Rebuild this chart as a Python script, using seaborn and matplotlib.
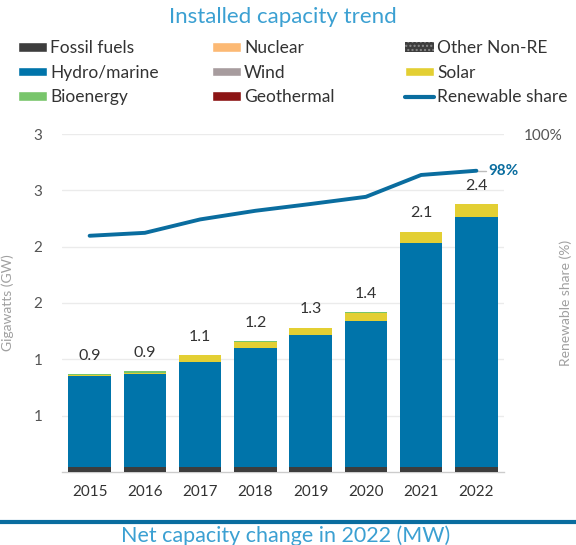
import numpy as np
import pandas as pd
import matplotlib
matplotlib.use("Agg")
import matplotlib.pyplot as plt
import seaborn as sns
from matplotlib.patches import Patch
from matplotlib.lines import Line2D
from matplotlib.ticker import FixedLocator

# ---------------- data ----------------
years = ["2015", "2016", "2017", "2018", "2019", "2020", "2021", "2022"]
fossil = [0.04, 0.04, 0.04, 0.04, 0.04, 0.04, 0.04, 0.04]
hydro = [0.81, 0.83, 0.94, 1.06, 1.18, 1.30, 1.99, 2.22]
solar = [0.010, 0.012, 0.055, 0.055, 0.057, 0.075, 0.099, 0.117]
bioenergy = [0.008, 0.012, 0.005, 0.005, 0.005, 0.005, 0.005, 0.005]
total_labels = ["0.9", "0.9", "1.1", "1.2", "1.3", "1.4", "2.1", "2.4"]
renewable_share = [94.46, 94.62, 95.35, 95.82, 96.19, 96.58, 97.77, 98.0]
y_ticks = [0.5, 1.0, 1.5, 2.0, 2.5, 3.0]
y_tick_labels = ["1", "1", "2", "2", "3", "3"]

# ---------------- style ----------------
sns.set_theme(style="white")
plt.rcParams["font.family"] = ["Lato", "DejaVu Sans"]

C_FOSSIL = "#3d3d3d"
C_HYDRO = "#0074aa"
C_SOLAR = "#e3cf33"
C_BIO = "#78c56b"
C_NUCLEAR = "#fcb974"
C_WIND = "#a79c9e"
C_GEO = "#8c1515"
C_LINE = "#0a6d9f"
C_TITLE = "#3ba0d2"

fig = plt.figure(figsize=(5.76, 5.45), dpi=100)
ax = fig.add_axes([62 / 576, 1 - 472 / 545, 442 / 576, 338 / 545])

df = pd.DataFrame({"year": years, "fossil": fossil, "hydro": hydro,
                   "solar": solar, "bio": bioenergy})
layers = [("fossil", C_FOSSIL), ("hydro", C_HYDRO), ("solar", C_SOLAR), ("bio", C_BIO)]
bottom = np.zeros(len(years))
for col, color in layers:
    sns.barplot(data=df, x="year", y=col, color=color, width=0.77,
                bottom=bottom, ax=ax, edgecolor="none", linewidth=0,
                saturation=1, zorder=3)
    bottom = bottom + df[col].to_numpy()

totals = bottom
for i, lab in enumerate(total_labels):
    ax.annotate(lab, (i, totals[i]), xytext=(0, 8), textcoords="offset points",
                ha="center", va="bottom", fontsize=11.5, color="#333333", zorder=5)

ax.set_xlim(-0.5, len(years) - 0.5)
ax.set_ylim(0, 3.0)
ax.yaxis.set_major_locator(FixedLocator(y_ticks))
ax.set_yticklabels(y_tick_labels)
ax.grid(axis="y", color="#ebebeb", linewidth=1, zorder=0)
ax.set_axisbelow(True)
for s in ["top", "right", "left"]:
    ax.spines[s].set_visible(False)
ax.spines["bottom"].set_color("#cccccc")
ax.spines["bottom"].set_linewidth(1)
ax.tick_params(axis="y", length=0, pad=14, labelsize=11, labelcolor="#555555")
ax.tick_params(axis="x", which="major", length=0, pad=9, labelsize=11, labelcolor="#333333")
ax.xaxis.set_minor_locator(FixedLocator(np.arange(-0.5, len(years), 1.0)))
ax.tick_params(axis="x", which="minor", length=5, color="#cccccc", width=1)
ax.set_xlabel("")
ax.set_ylabel("Gigawatts (GW)", fontsize=10, color="#a0a0a0")
ax.yaxis.set_label_coords(-0.108, 0.5)

# renewable share on right axis
ax2 = ax.twinx()
sns.lineplot(x=np.arange(len(years)), y=renewable_share, ax=ax2, color=C_LINE,
             linewidth=2.8, zorder=4)
ax2.set_ylim(81.6, 100)
ax2.yaxis.set_major_locator(FixedLocator([100]))
ax2.set_yticklabels(["100%"])
ax2.tick_params(axis="y", length=0, pad=14, labelsize=11, labelcolor="#555555")
for s in ["top", "right", "left", "bottom"]:
    ax2.spines[s].set_visible(False)
ax2.set_ylabel("Renewable share (%)", fontsize=10, color="#a0a0a0")
ax2.yaxis.set_label_coords(1.125, 0.5)
ax2.grid(False)
last = len(years) - 1
ax2.plot([last + 0.02, last + 0.17], [renewable_share[-1]] * 2, color="#bbbbbb", lw=1)
ax2.annotate(f"{renewable_share[-1]:.0f}%", (last, renewable_share[-1]), xytext=(9, 0),
             textcoords="offset points", ha="left", va="center", fontsize=11,
             color=C_LINE, fontweight="bold")

# title
fig.text(283 / 576, 1 - 17 / 545, "Installed capacity trend", ha="center", va="center",
         fontsize=16, color=C_TITLE)

# legend (three columns)
cols = [
    [("Fossil fuels", Patch(facecolor=C_FOSSIL)),
     ("Hydro/marine", Patch(facecolor=C_HYDRO)),
     ("Bioenergy", Patch(facecolor=C_BIO))],
    [("Nuclear", Patch(facecolor=C_NUCLEAR)),
     ("Wind", Patch(facecolor=C_WIND)),
     ("Geothermal", Patch(facecolor=C_GEO))],
    [("Other Non-RE", Patch(facecolor="#3d3d3d", hatch="....", edgecolor="#8a8a8a", linewidth=0)),
     ("Solar", Patch(facecolor=C_SOLAR)),
     ("Renewable share", Line2D([0], [0], color=C_LINE, lw=3))],
]
xs = [18 / 576, 212 / 576, 405 / 576]
for x0, entries in zip(xs, cols):
    leg = fig.legend([h for _, h in entries], [l for l, _ in entries],
                     loc="upper left", bbox_to_anchor=(x0, 1 - 40 / 545),
                     frameon=False, fontsize=12.5, handlelength=1.65, handleheight=0.5,
                     handletextpad=0.2, labelspacing=0.5, borderpad=0, borderaxespad=0)
    for t in leg.get_texts():
        t.set_color("#333333")

# bottom separator and next section title
fig.add_artist(Line2D([0, 1], [1 - 522 / 545] * 2, color=C_LINE, lw=3,
                      transform=fig.transFigure))
fig.text(286 / 576, 1 - 536 / 545, "Net capacity change in 2022 (MW)", ha="center",
         va="center", fontsize=15.5, color=C_TITLE)

fig.savefig("out.png", dpi=100)
